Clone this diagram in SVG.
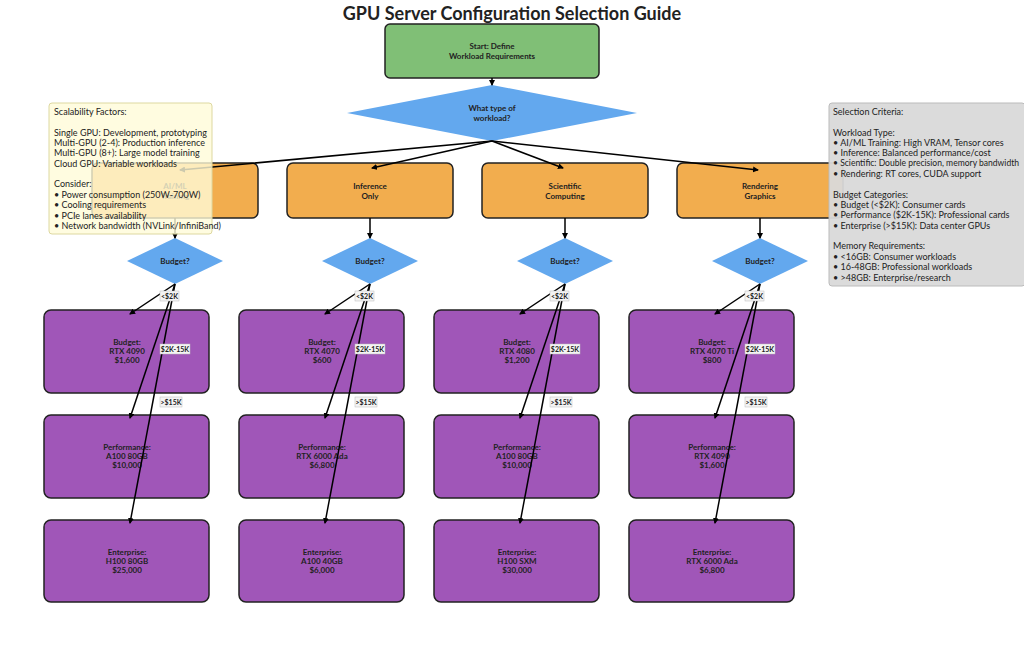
<svg xmlns="http://www.w3.org/2000/svg" width="1024" height="656" viewBox="0 0 1024 656">
<style>
text{font-family:Lato,"Liberation Sans",sans-serif;fill:#222}
.t{font-size:8px;font-weight:bold;text-anchor:middle}
.start{fill:#80bf76;stroke:#222;stroke-width:1.5}
.cat{fill:#f2ad4e;stroke:#222;stroke-width:1.5}
.dia{fill:#63a8ee}
.gpu{fill:#a056b8;stroke:#222;stroke-width:1.5}
.e{stroke:#000;stroke-width:1.5;fill:none;marker-end:url(#a)}
.lb rect{fill:#f4f4f4;stroke:#bbb;stroke-width:0.5}
.lb text{font-size:7px;font-weight:bold;text-anchor:middle}
.n{font-size:9px}
</style>
<defs><marker id="a" markerWidth="6" markerHeight="6" refX="5" refY="3" orient="auto" markerUnits="userSpaceOnUse"><path d="M0,0L6,3L0,6z" fill="#000"/></marker></defs>
<rect width="1024" height="656" fill="#fff"/>
<text x="512" y="20" text-anchor="middle" style="font-size:18px;font-weight:bold">GPU Server Configuration Selection Guide</text>

<g id="start"><rect class="start" x="385" y="24" width="214" height="54" rx="5"/><text class="t" x="492" y="49">Start: Define</text><text class="t" x="492" y="59">Workload Requirements</text></g>
<g id="workload"><polygon class="dia" points="492,85 637,113 492,141 347,113"/><text class="t" x="492" y="111">What type of</text><text class="t" x="492" y="121">workload?</text></g>

<g id="cat1"><rect class="cat" x="92" y="163" width="166" height="55" rx="6"/><text class="t" x="175" y="189">AI/ML</text><text class="t" x="175" y="199">Training</text></g>
<g id="cat2"><rect class="cat" x="287" y="163" width="166" height="55" rx="6"/><text class="t" x="370" y="189">Inference</text><text class="t" x="370" y="199">Only</text></g>
<g id="cat3"><rect class="cat" x="482" y="163" width="166" height="55" rx="6"/><text class="t" x="565" y="189">Scientific</text><text class="t" x="565" y="199">Computing</text></g>
<g id="cat4"><rect class="cat" x="677" y="163" width="166" height="55" rx="6"/><text class="t" x="760" y="189">Rendering</text><text class="t" x="760" y="199">Graphics</text></g>

<g id="b1"><polygon class="dia" points="175,238 223,261 175,284 127,261"/><text class="t" x="175" y="264">Budget?</text></g>
<g id="b2"><polygon class="dia" points="370,238 418,261 370,284 322,261"/><text class="t" x="370" y="264">Budget?</text></g>
<g id="b3"><polygon class="dia" points="565,238 613,261 565,284 517,261"/><text class="t" x="565" y="264">Budget?</text></g>
<g id="b4"><polygon class="dia" points="760,238 808,261 760,284 712,261"/><text class="t" x="760" y="264">Budget?</text></g>

<g id="g11"><rect class="gpu" x="44" y="310" width="165" height="83" rx="7"/><text class="t" x="127" y="345">Budget:</text><text class="t" x="127" y="354">RTX 4090</text><text class="t" x="127" y="363">$1,600</text></g>
<g id="g12"><rect class="gpu" x="44" y="415" width="165" height="83" rx="7"/><text class="t" x="127" y="450">Performance:</text><text class="t" x="127" y="459">A100 80GB</text><text class="t" x="127" y="468">$10,000</text></g>
<g id="g13"><rect class="gpu" x="44" y="520" width="165" height="82" rx="7"/><text class="t" x="127" y="555">Enterprise:</text><text class="t" x="127" y="564">H100 80GB</text><text class="t" x="127" y="573">$25,000</text></g>
<g id="g21"><rect class="gpu" x="239" y="310" width="165" height="83" rx="7"/><text class="t" x="322" y="345">Budget:</text><text class="t" x="322" y="354">RTX 4070</text><text class="t" x="322" y="363">$600</text></g>
<g id="g22"><rect class="gpu" x="239" y="415" width="165" height="83" rx="7"/><text class="t" x="322" y="450">Performance:</text><text class="t" x="322" y="459">RTX 6000 Ada</text><text class="t" x="322" y="468">$6,800</text></g>
<g id="g23"><rect class="gpu" x="239" y="520" width="165" height="82" rx="7"/><text class="t" x="322" y="555">Enterprise:</text><text class="t" x="322" y="564">A100 40GB</text><text class="t" x="322" y="573">$6,000</text></g>
<g id="g31"><rect class="gpu" x="434" y="310" width="165" height="83" rx="7"/><text class="t" x="517" y="345">Budget:</text><text class="t" x="517" y="354">RTX 4080</text><text class="t" x="517" y="363">$1,200</text></g>
<g id="g32"><rect class="gpu" x="434" y="415" width="165" height="83" rx="7"/><text class="t" x="517" y="450">Performance:</text><text class="t" x="517" y="459">A100 80GB</text><text class="t" x="517" y="468">$10,000</text></g>
<g id="g33"><rect class="gpu" x="434" y="520" width="165" height="82" rx="7"/><text class="t" x="517" y="555">Enterprise:</text><text class="t" x="517" y="564">H100 SXM</text><text class="t" x="517" y="573">$30,000</text></g>
<g id="g41"><rect class="gpu" x="629" y="310" width="165" height="83" rx="7"/><text class="t" x="712" y="345">Budget:</text><text class="t" x="712" y="354">RTX 4070 Ti</text><text class="t" x="712" y="363">$800</text></g>
<g id="g42"><rect class="gpu" x="629" y="415" width="165" height="83" rx="7"/><text class="t" x="712" y="450">Performance:</text><text class="t" x="712" y="459">RTX 4090</text><text class="t" x="712" y="468">$1,600</text></g>
<g id="g43"><rect class="gpu" x="629" y="520" width="165" height="82" rx="7"/><text class="t" x="712" y="555">Enterprise:</text><text class="t" x="712" y="564">RTX 6000 Ada</text><text class="t" x="712" y="573">$6,800</text></g>

<g id="edges">
<path class="e" d="M492,78V85"/>
<path class="e" d="M492,141L180,170"/>
<path class="e" d="M492,141L372,168"/>
<path class="e" d="M492,141L563,168"/>
<path class="e" d="M492,141L758,170"/>
<path class="e" d="M175,218V238"/><path class="e" d="M370,218V238"/><path class="e" d="M565,218V238"/><path class="e" d="M760,218V238"/>
<path class="e" d="M175,284L130,314"/><path class="e" d="M175,284L130,418"/><path class="e" d="M175,284L130,523"/>
<path class="e" d="M370,284L325,314"/><path class="e" d="M370,284L325,418"/><path class="e" d="M370,284L325,523"/>
<path class="e" d="M565,284L520,314"/><path class="e" d="M565,284L520,418"/><path class="e" d="M565,284L520,523"/>
<path class="e" d="M760,284L715,314"/><path class="e" d="M760,284L715,418"/><path class="e" d="M760,284L715,523"/>
</g>
<g id="labels" class="lb">
<g><rect x="160" y="291" width="19" height="10"/><text x="169.5" y="298.5">&lt;$2K</text></g>
<g><rect x="160" y="344" width="30" height="10"/><text x="175" y="351.5">$2K-15K</text></g>
<g><rect x="160" y="397" width="22" height="10"/><text x="171" y="404.5">&gt;$15K</text></g>
<g><rect x="355" y="291" width="19" height="10"/><text x="364.5" y="298.5">&lt;$2K</text></g>
<g><rect x="355" y="344" width="30" height="10"/><text x="370" y="351.5">$2K-15K</text></g>
<g><rect x="355" y="397" width="22" height="10"/><text x="366" y="404.5">&gt;$15K</text></g>
<g><rect x="550" y="291" width="19" height="10"/><text x="559.5" y="298.5">&lt;$2K</text></g>
<g><rect x="550" y="344" width="30" height="10"/><text x="565" y="351.5">$2K-15K</text></g>
<g><rect x="550" y="397" width="22" height="10"/><text x="561" y="404.5">&gt;$15K</text></g>
<g><rect x="745" y="291" width="19" height="10"/><text x="754.5" y="298.5">&lt;$2K</text></g>
<g><rect x="745" y="344" width="30" height="10"/><text x="760" y="351.5">$2K-15K</text></g>
<g><rect x="745" y="397" width="22" height="10"/><text x="756" y="404.5">&gt;$15K</text></g>
</g>

<g id="scal"><rect x="49" y="103" width="163" height="131" rx="3" fill="#fffbd8" fill-opacity="0.8" stroke="#ddd8a0"/>
<text class="n" x="54" y="115">Scalability Factors:</text>
<text class="n" x="54" y="136">Single GPU: Development, prototyping</text>
<text class="n" x="54" y="146">Multi-GPU (2-4): Production inference</text>
<text class="n" x="54" y="156">Multi-GPU (8+): Large model training</text>
<text class="n" x="54" y="167">Cloud GPU: Variable workloads</text>
<text class="n" x="54" y="187">Consider:</text>
<text class="n" x="54" y="198">• Power consumption (250W-700W)</text>
<text class="n" x="54" y="208">• Cooling requirements</text>
<text class="n" x="54" y="219">• PCIe lanes availability</text>
<text class="n" x="54" y="229">• Network bandwidth (NVLink/InfiniBand)</text></g>

<g id="sel"><rect x="829" y="103" width="196" height="183" rx="3" fill="#d9d9d9" fill-opacity="0.95" stroke="#bbb"/>
<text class="n" x="833" y="115">Selection Criteria:</text>
<text class="n" x="833" y="136">Workload Type:</text>
<text class="n" x="833" y="146">• AI/ML Training: High VRAM, Tensor cores</text>
<text class="n" x="833" y="156">• Inference: Balanced performance/cost</text>
<text class="n" x="833" y="166" textLength="186" lengthAdjust="spacingAndGlyphs">• Scientific: Double precision, memory bandwidth</text>
<text class="n" x="833" y="177">• Rendering: RT cores, CUDA support</text>
<text class="n" x="833" y="198">Budget Categories:</text>
<text class="n" x="833" y="208">• Budget (&lt;$2K): Consumer cards</text>
<text class="n" x="833" y="218">• Performance ($2K-15K): Professional cards</text>
<text class="n" x="833" y="229">• Enterprise (&gt;$15K): Data center GPUs</text>
<text class="n" x="833" y="249">Memory Requirements:</text>
<text class="n" x="833" y="260">• &lt;16GB: Consumer workloads</text>
<text class="n" x="833" y="270">• 16-48GB: Professional workloads</text>
<text class="n" x="833" y="281">• &gt;48GB: Enterprise/research</text></g>
</svg>
